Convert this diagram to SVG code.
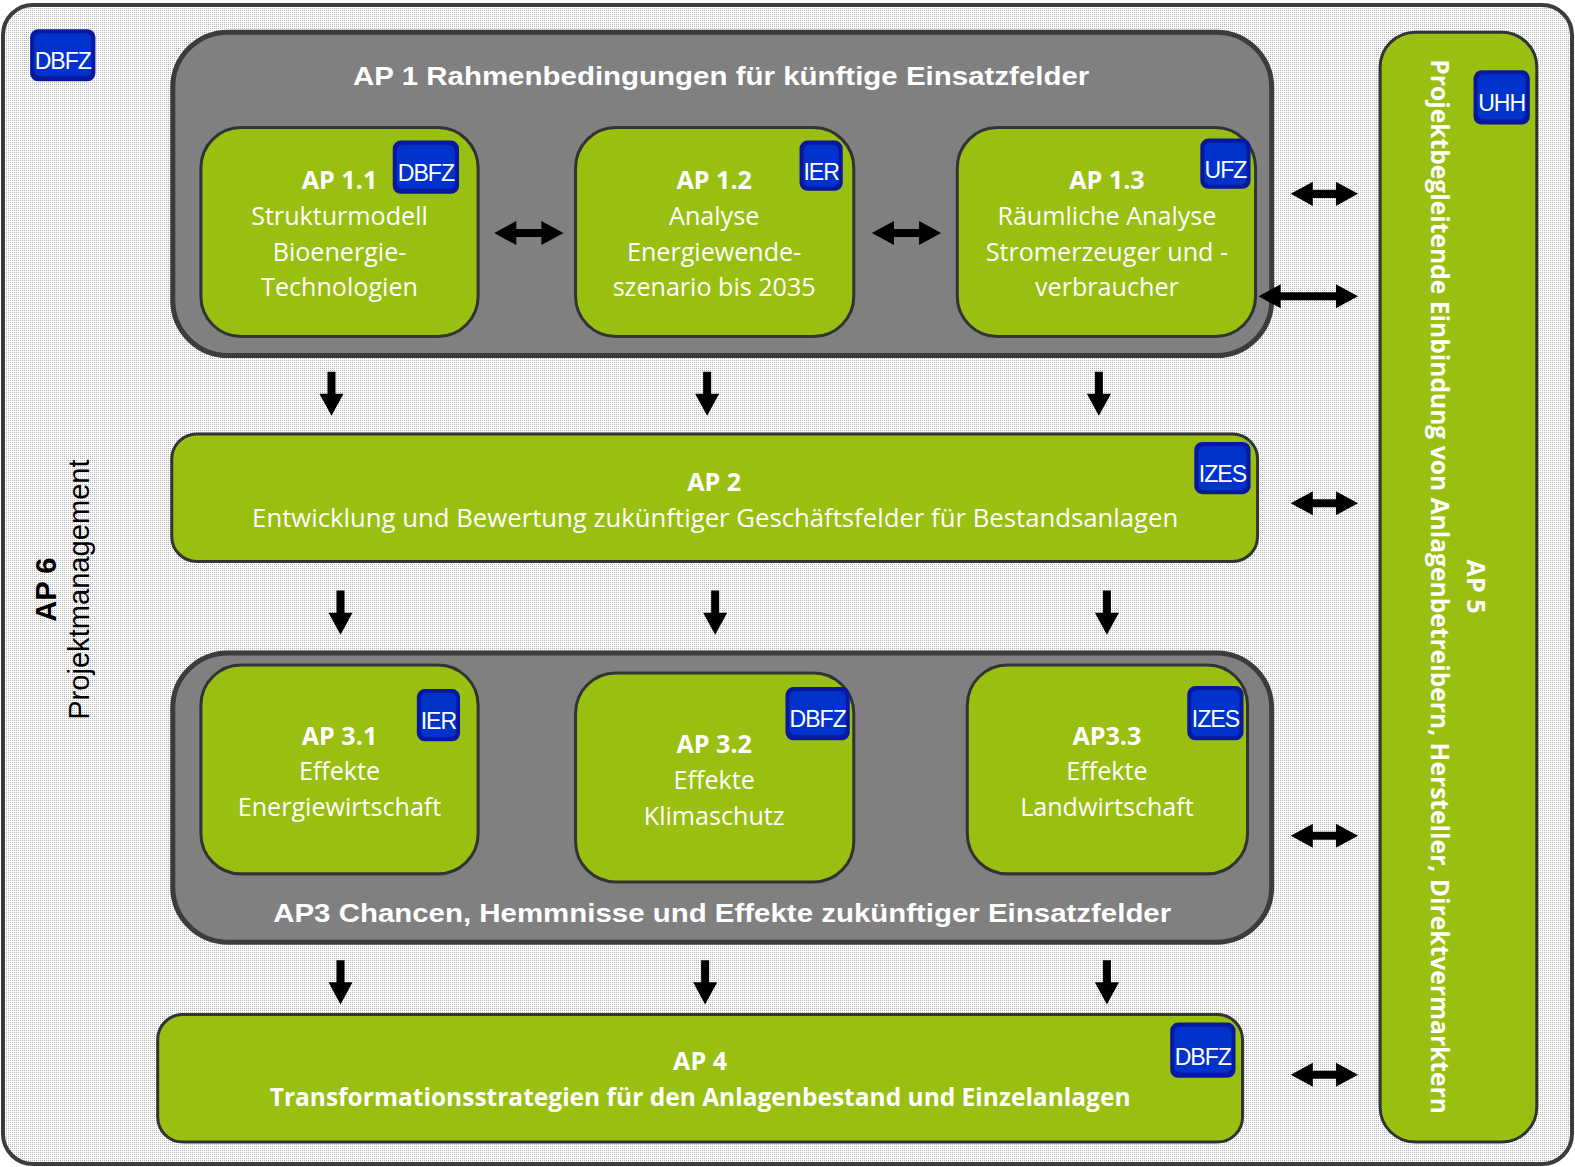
<svg xmlns="http://www.w3.org/2000/svg" width="1575" height="1167" viewBox="0 0 1575 1167">
<defs>
<pattern id="dots" width="2" height="2" patternUnits="userSpaceOnUse">
<rect width="2" height="2" fill="#ffffff"/>
<rect width="1" height="1" fill="#b4b4b4"/>
</pattern>
<path id="down" d="M-4,0 H4 V22 H12 L0,44 L-12,22 H-4 Z"/>
<path id="dbl" d="M0,0 L22,-12 V-4 H45 V-12 L67,0 L45,12 V4 H22 V12 Z"/>
<style>
.gray{fill:#808080;stroke:#3c3c3c;stroke-width:5}
.green{fill:#99bf10;stroke:#333;stroke-width:3}
.bo{fill:#0a18a0}
.bi{fill:#0033cc}
.bt{font-family:"Liberation Sans",Arial,sans-serif;font-size:23px;letter-spacing:-1px;fill:#fff;text-anchor:middle}
.t{font-family:"Open Sans","Noto Sans",sans-serif;font-size:25px;fill:#fff;text-anchor:middle}
.tb{font-family:"Open Sans","Noto Sans",sans-serif;font-size:25px;font-weight:bold;fill:#fff;text-anchor:middle}
.h{font-family:"Liberation Sans",Arial,sans-serif;font-size:26px;font-weight:bold;fill:#fff;text-anchor:middle}
.a{font-family:"Liberation Sans",Arial,sans-serif;font-size:29px;fill:#000;text-anchor:middle}
.ab{font-family:"Liberation Sans",Arial,sans-serif;font-size:29px;font-weight:bold;fill:#000;text-anchor:middle}
.arr{fill:#000}
</style>
</defs>

<g id="frame">
<rect x="3" y="5" width="1569" height="1159" rx="30" fill="url(#dots)" stroke="#3c3c3c" stroke-width="4"/>
</g>

<g transform="scale(1.00446)">
<g id="ap6">
<rect class="bo" x="30" y="29" width="65" height="52" rx="8"/>
<rect class="bi" x="34" y="33" width="57" height="43" rx="6"/>
<text class="bt" x="62.5" y="69">DBFZ</text>
<g transform="translate(56,587) rotate(-90)">
<text class="ab" x="0" y="0">AP 6</text>
<text class="a" x="0" y="33">Projektmanagement</text>
</g>
</g>

<g id="ap1">
<rect class="gray" x="172" y="32" width="1094" height="322" rx="55"/>
<text class="h" x="718" y="85" textLength="733" lengthAdjust="spacingAndGlyphs">AP 1 Rahmenbedingungen für künftige Einsatzfelder</text>
</g>

<g id="ap1-1">
<rect class="green" x="200" y="127" width="276" height="208" rx="40"/>
<rect class="bo" x="391" y="140" width="66" height="53" rx="8"/>
<rect class="bi" x="395" y="144" width="58" height="44" rx="6"/>
<text class="bt" x="424" y="180">DBFZ</text>
<text class="tb" x="338" y="188">AP 1.1</text>
<text class="t" x="338" y="224">Strukturmodell</text>
<text class="t" x="338" y="260">Bioenergie-</text>
<text class="t" x="338" y="295">Technologien</text>
</g>

<g id="ap1-2">
<rect class="green" x="573" y="127" width="277" height="208" rx="40"/>
<rect class="bo" x="796" y="140" width="43" height="50" rx="8"/>
<rect class="bi" x="800" y="144" width="35" height="42" rx="6"/>
<text class="bt" x="817.5" y="179">IER</text>
<text class="tb" x="711" y="188">AP 1.2</text>
<text class="t" x="711" y="224">Analyse</text>
<text class="t" x="711" y="260">Energiewende-</text>
<text class="t" x="711" y="295">szenario bis 2035</text>
</g>

<g id="ap1-3">
<rect class="green" x="953" y="127" width="297" height="208" rx="40"/>
<rect class="bo" x="1195" y="138" width="50" height="50" rx="8"/>
<rect class="bi" x="1199" y="142" width="42" height="42" rx="6"/>
<text class="bt" x="1220" y="177">UFZ</text>
<text class="tb" x="1102" y="188">AP 1.3</text>
<text class="t" x="1102" y="224">Räumliche Analyse</text>
<text class="t" x="1102" y="260">Stromerzeuger und -</text>
<text class="t" x="1102" y="295">verbraucher</text>
</g>

<g id="ap2">
<rect class="green" x="171" y="432" width="1081" height="127" rx="25"/>
<rect class="bo" x="1189" y="440" width="56" height="52" rx="8"/>
<rect class="bi" x="1193" y="444" width="48" height="44" rx="6"/>
<text class="bt" x="1217" y="480">IZES</text>
<text class="tb" x="711" y="489">AP 2</text>
<text class="t" x="712" y="525" textLength="922" lengthAdjust="spacingAndGlyphs">Entwicklung und Bewertung zukünftiger Geschäftsfelder für Bestandsanlagen</text>
</g>

<g id="ap3">
<rect class="gray" x="172" y="650" width="1094" height="288" rx="55"/>
<text class="h" x="719" y="918" textLength="894" lengthAdjust="spacingAndGlyphs">AP3 Chancen, Hemmnisse und Effekte zukünftiger Einsatzfelder</text>
</g>

<g id="ap3-1">
<rect class="green" x="200" y="662" width="276" height="208" rx="40"/>
<rect class="bo" x="415" y="686" width="43" height="52" rx="8"/>
<rect class="bi" x="419" y="690" width="35" height="44" rx="6"/>
<text class="bt" x="436.5" y="726">IER</text>
<text class="tb" x="338" y="742">AP 3.1</text>
<text class="t" x="338" y="777">Effekte</text>
<text class="t" x="338" y="812">Energiewirtschaft</text>
</g>

<g id="ap3-2">
<rect class="green" x="573" y="670" width="277" height="208" rx="40"/>
<rect class="bo" x="782" y="684" width="64" height="53" rx="8"/>
<rect class="bi" x="786" y="688" width="56" height="44" rx="6"/>
<text class="bt" x="814" y="724">DBFZ</text>
<text class="tb" x="711" y="750">AP 3.2</text>
<text class="t" x="711" y="785">Effekte</text>
<text class="t" x="711" y="821">Klimaschutz</text>
</g>

<g id="ap3-3">
<rect class="green" x="963" y="662" width="279" height="208" rx="40"/>
<rect class="bo" x="1182" y="683" width="56" height="54" rx="8"/>
<rect class="bi" x="1186" y="687" width="48" height="46" rx="6"/>
<text class="bt" x="1210" y="724">IZES</text>
<text class="tb" x="1102" y="742">AP3.3</text>
<text class="t" x="1102" y="777">Effekte</text>
<text class="t" x="1102" y="812">Landwirtschaft</text>
</g>

<g id="ap4">
<rect class="green" x="157" y="1010" width="1080" height="127" rx="25"/>
<rect class="bo" x="1165" y="1018" width="65" height="55" rx="8"/>
<rect class="bi" x="1169" y="1022" width="57" height="46" rx="6"/>
<text class="bt" x="1197.5" y="1060">DBFZ</text>
<text class="tb" x="697" y="1065">AP 4</text>
<text class="tb" x="697" y="1101" textLength="857" lengthAdjust="spacingAndGlyphs">Transformationsstrategien für den Anlagenbestand und Einzelanlagen</text>
</g>

<g id="ap5">
<rect class="green" x="1374" y="32" width="156" height="1105" rx="35"/>
<rect class="bo" x="1467" y="70" width="56" height="54" rx="8"/>
<rect class="bi" x="1471" y="74" width="48" height="45" rx="6"/>
<text class="bt" x="1495" y="111">UHH</text>
<g transform="translate(1433,584) rotate(90)">
<text class="tb" x="0" y="-27">AP 5</text>
<text class="tb" x="0" y="8" textLength="1050" lengthAdjust="spacingAndGlyphs">Projektbegleitende Einbindung von Anlagenbetreibern, Hersteller, Direktvermarktern</text>
</g>
</g>

<g id="connectors" class="arr">
<path d="M492,232 L514,220 V228 H539 V220 L561,232 L539,244 V236 H514 V244 Z"/>
<path d="M868,232 L890,220 V228 H915 V220 L937,232 L915,244 V236 H890 V244 Z"/>
<path d="M1253,295 L1275,283 V291 H1330 V283 L1352,295 L1330,307 V299 H1275 V307 Z"/>
<use href="#dbl" x="1285" y="193"/>
<use href="#dbl" x="1285" y="501"/>
<use href="#dbl" x="1285" y="832"/>
<use href="#dbl" x="1285" y="1070"/>
<use href="#down" x="330" y="370"/>
<use href="#down" x="704" y="370"/>
<use href="#down" x="1094" y="370"/>
<use href="#down" x="339" y="588"/>
<use href="#down" x="712" y="588"/>
<use href="#down" x="1102" y="588"/>
<use href="#down" x="339" y="956"/>
<use href="#down" x="702" y="956"/>
<use href="#down" x="1102" y="956"/>
</g>
</g>
</svg>
